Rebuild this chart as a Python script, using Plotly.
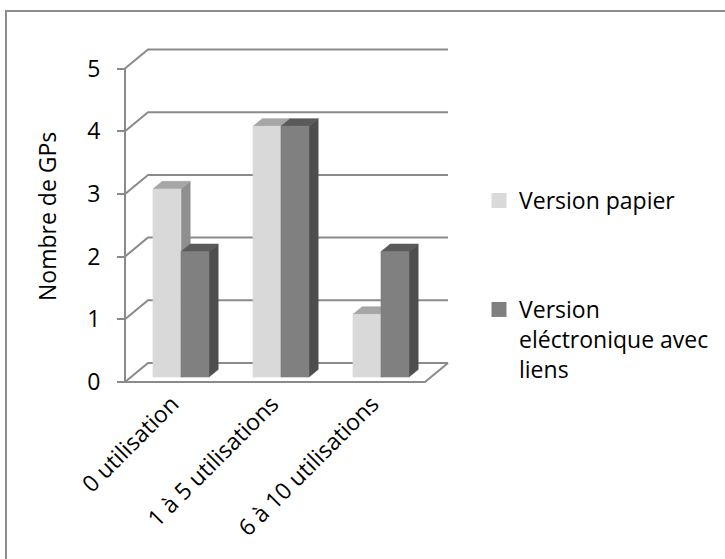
import plotly.graph_objects as go

# Données
categories = ["0 utilisation", "1 à 5 utilisations", "6 à 10 utilisations"]
series_names = ["Version papier", "Version<br>eléctronique avec<br>liens"]
papier = [3, 4, 1]
electronique = [2, 4, 2]
y_ticks = [0, 1, 2, 3, 4, 5]

# Pseudo-3D geometry (x in category units, y in value units)
DX, DY = 0.23, 0.303        # offset from the front plane to the back wall
D0, D1 = 0.26, 0.66         # depth span occupied by the bars
BAR_W = 0.28
X_LEFT, X_RIGHT = -0.5, 2.5
W, H = 725, 559
PX_PER_X, PX_PER_Y = 100.0, 62.7
X0_PX, Y0_PX = 175.0, 382.0

GRID = "#8a8a8a"
FONT = "Open Sans"
FS = 23

def proj(x, v, d):
    return x + d * DX, v + d * DY

fig = go.Figure()

def add_line(pts, color=GRID, width=2):
    xs, ys = [], []
    for seg in pts:
        for p in seg:
            xs.append(p[0]); ys.append(p[1])
        xs.append(None); ys.append(None)
    fig.add_trace(go.Scatter(x=xs, y=ys, mode="lines", hoverinfo="skip",
                             line=dict(color=color, width=width), showlegend=False))

# back wall gridlines and their connectors to the front axis
segs = []
for v in y_ticks:
    segs.append([proj(X_LEFT, v, 0), proj(X_LEFT, v, 1), proj(X_RIGHT, v, 1)])
# floor
segs.append([proj(X_LEFT, 0, 0), proj(X_RIGHT, 0, 0), proj(X_RIGHT, 0, 1)])
# front value axis
segs.append([proj(X_LEFT, 0, 0), proj(X_LEFT, max(y_ticks), 0)])
add_line(segs)

def faces(values, offset):
    front, top, side = [], [], []
    for i, v in enumerate(values):
        xa = i - BAR_W + offset
        xb = xa + BAR_W
        front.append([proj(xa, 0, D0), proj(xb, 0, D0), proj(xb, v, D0), proj(xa, v, D0)])
        top.append([proj(xa, v, D0), proj(xb, v, D0), proj(xb, v, D1), proj(xa, v, D1)])
        side.append([proj(xb, 0, D0), proj(xb, 0, D1), proj(xb, v, D1), proj(xb, v, D0)])
    return front, top, side

def add_poly(polys, color):
    xs, ys = [], []
    for poly in polys:
        for p in poly + [poly[0]]:
            xs.append(p[0]); ys.append(p[1])
        xs.append(None); ys.append(None)
    fig.add_trace(go.Scatter(x=xs, y=ys, mode="lines", fill="toself", fillcolor=color,
                             line=dict(color=color, width=0.6), hoverinfo="skip",
                             showlegend=False))

styles = [
    (papier, 0.0, "#d9d9d9", "#a6a6a6", "#8f8f8f"),
    (electronique, BAR_W, "#808080", "#5a5a5a", "#4e4e4e"),
]
for values, off, c_front, c_top, c_side in styles:
    fr, tp, sd = faces(values, off)
    add_poly(sd, c_side)
    add_poly(tp, c_top)
    add_poly(fr, c_front)

# legend entries
fig.add_trace(go.Scatter(x=[None], y=[None], mode="markers", name=series_names[0],
                         marker=dict(symbol="square", size=15, color="#d9d9d9"),
                         legend="legend"))
fig.add_trace(go.Scatter(x=[None], y=[None], mode="markers", name=series_names[1],
                         marker=dict(symbol="square", size=15, color="#808080"),
                         legend="legend2"))

x_range = [(0 - X0_PX) / PX_PER_X, (W - X0_PX) / PX_PER_X]
y_range = [(Y0_PX - H) / PX_PER_Y, Y0_PX / PX_PER_Y]

LEG_X = 479 / W

fig.update_layout(
    width=W, height=H,
    margin=dict(l=0, r=0, t=0, b=0),
    paper_bgcolor="white", plot_bgcolor="white",
    font=dict(family=FONT, size=FS, color="black"),
    xaxis=dict(range=x_range, domain=[0, 1], anchor="free",
               position=1 - Y0_PX / H,
               tickvals=[i - 0.03 for i in range(len(categories))],
               ticktext=categories, tickangle=-45, ticks="",
               showgrid=False, zeroline=False, showline=False,
               tickfont=dict(size=FS), ticklabelstandoff=3),
    yaxis=dict(range=y_range, domain=[0, 1], anchor="free",
               position=(X0_PX + X_LEFT * PX_PER_X) / W,
               tickvals=y_ticks, ticks="outside", ticklen=8, tickwidth=2,
               tickcolor=GRID, showgrid=False, zeroline=False, showline=False,
               tickfont=dict(size=FS), ticklabelstandoff=12),
    legend=dict(x=LEG_X, y=1 - 179 / H, xanchor="left", yanchor="top",
                font=dict(size=FS), bgcolor="rgba(0,0,0,0)", itemwidth=30,
                valign="top"),
    legend2=dict(x=LEG_X, y=1 - 288 / H, xanchor="left", yanchor="top",
                 font=dict(size=FS), bgcolor="rgba(0,0,0,0)", itemwidth=30,
                 valign="top"),
    shapes=[dict(type="rect", xref="paper", yref="paper",
                 x0=6 / W, x1=1.02, y0=-0.02, y1=1 - 11 / H,
                 line=dict(color="#8c8c8c", width=2), layer="below")],
    annotations=[dict(text="Nombre de GPs", xref="paper", yref="paper",
                      x=47 / W, y=1 - 217 / H, textangle=-90, showarrow=False,
                      font=dict(size=FS), xanchor="center", yanchor="middle")],
)

fig.write_html("out.html")
